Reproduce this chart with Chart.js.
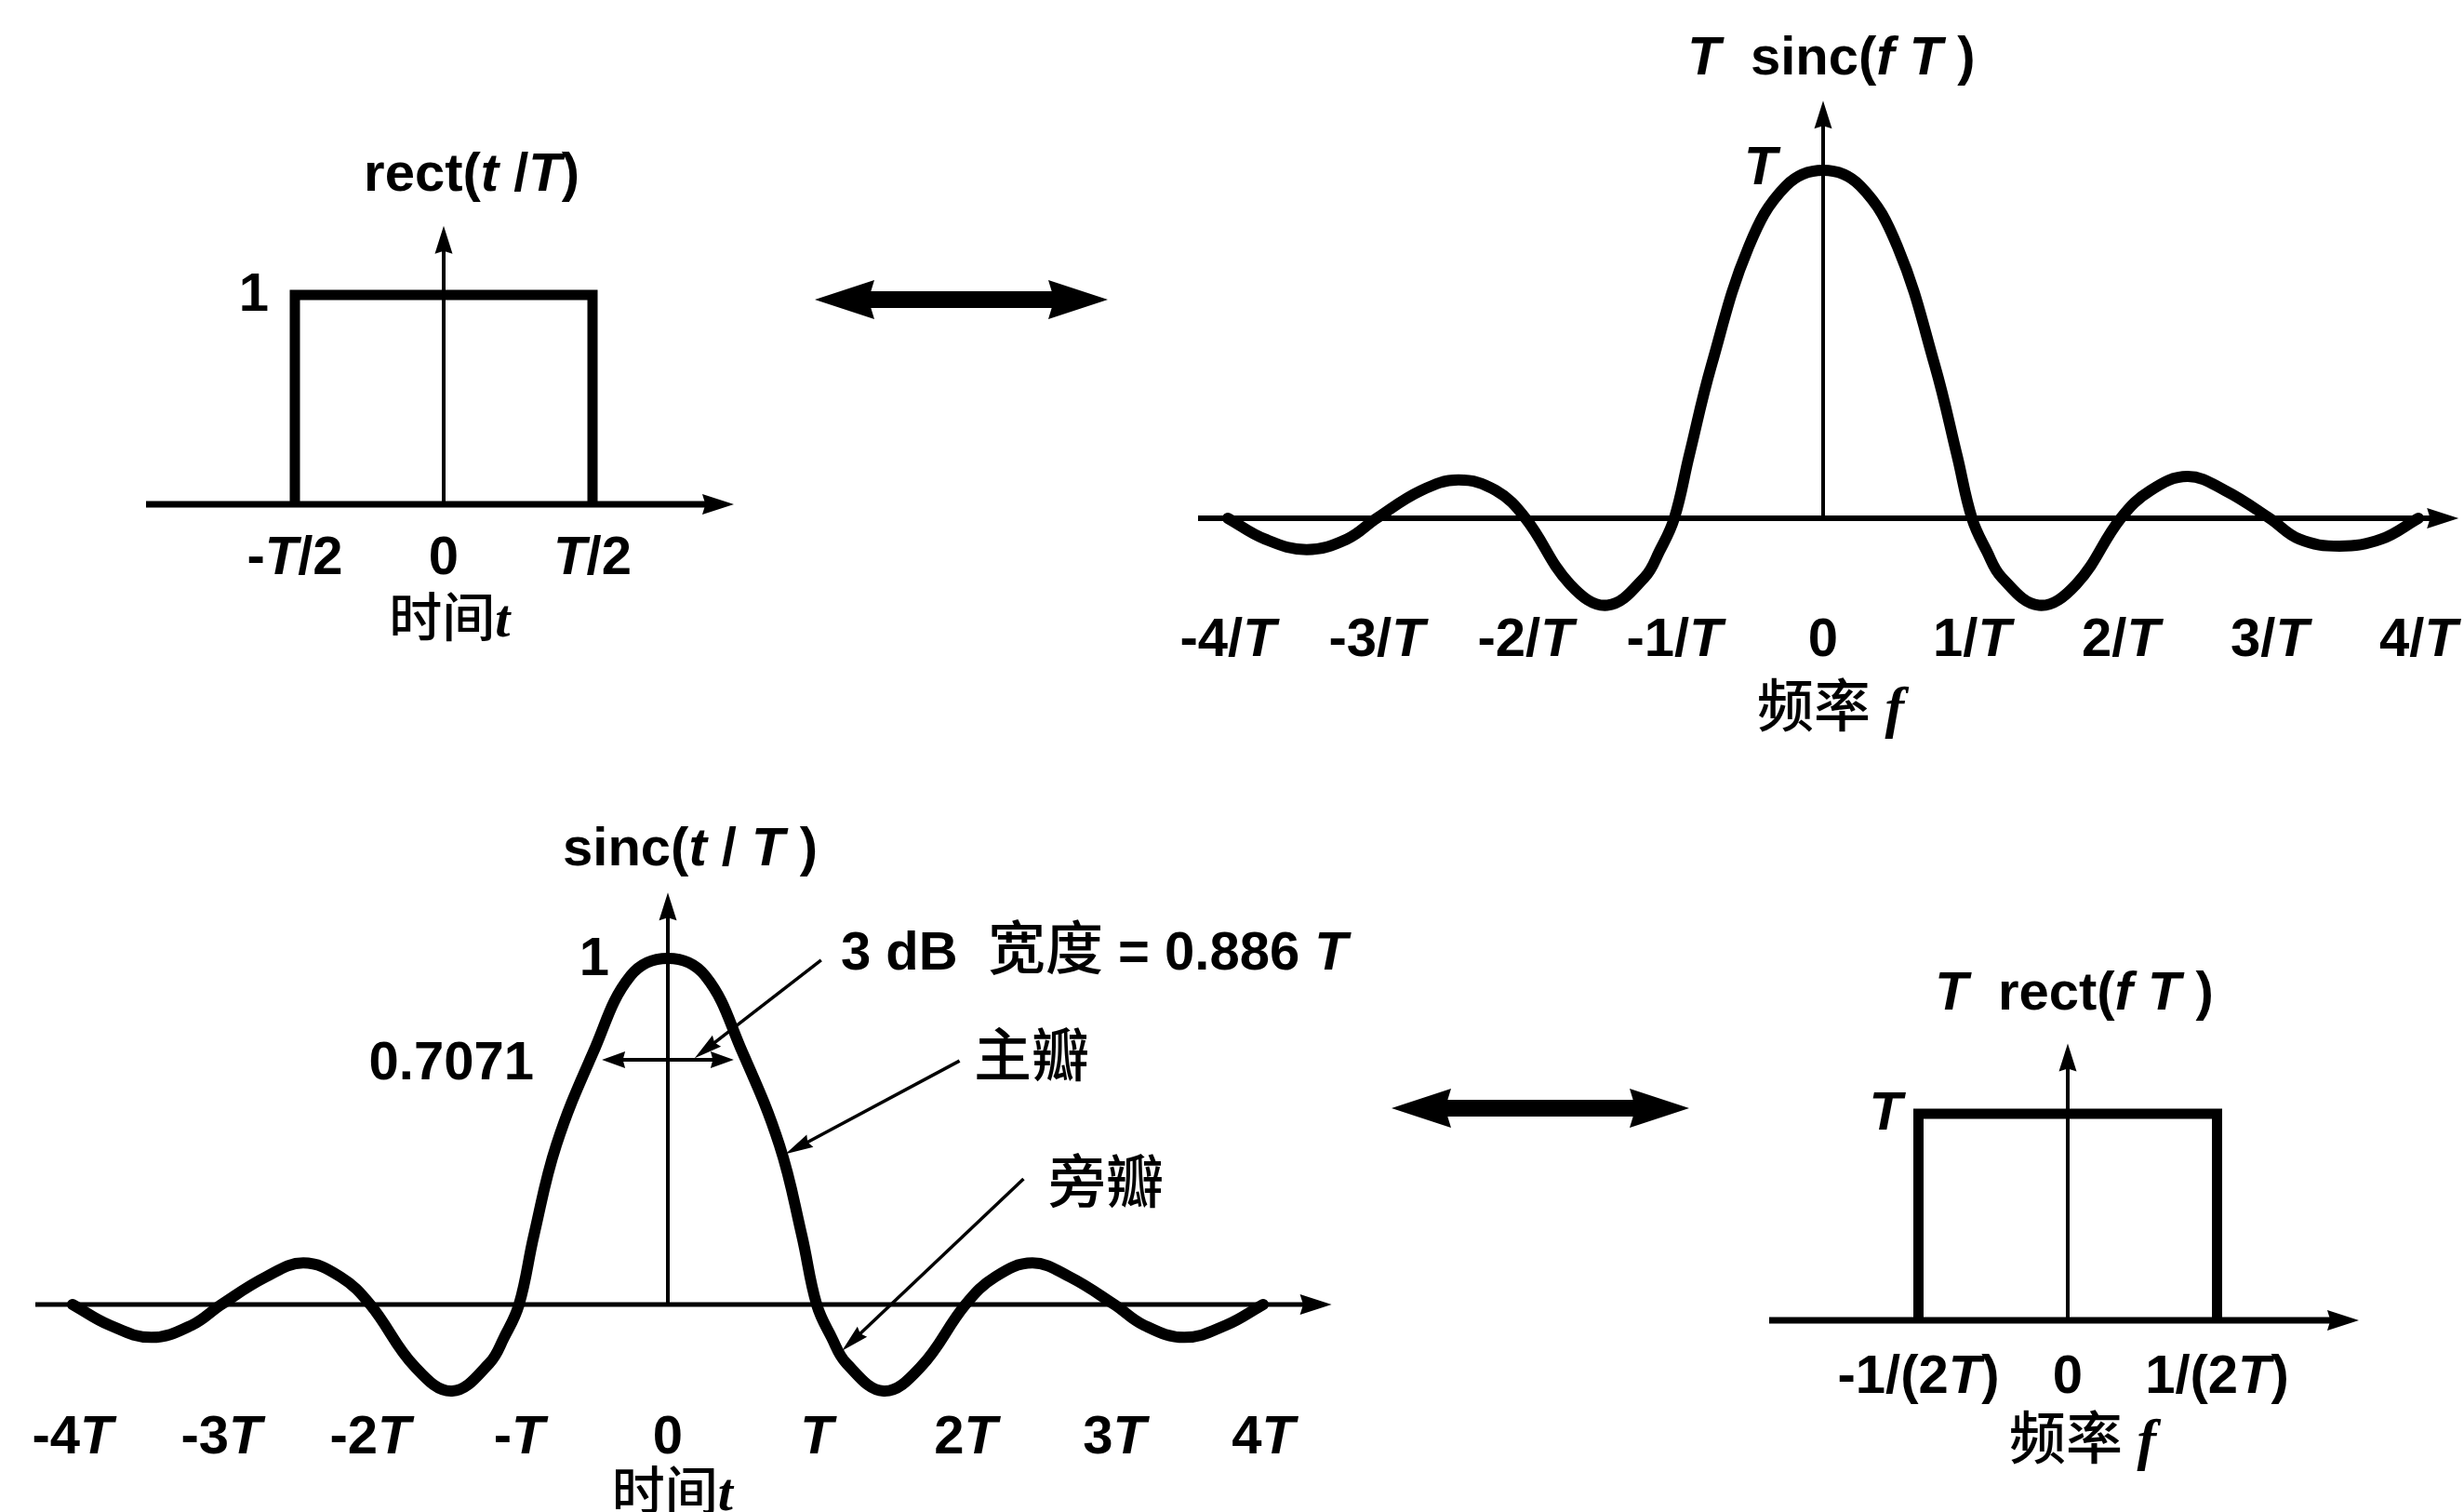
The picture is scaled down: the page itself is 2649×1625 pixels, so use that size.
<!DOCTYPE html>
<html>
<head>
<meta charset="utf-8">
<script src="https://cdn.jsdelivr.net/npm/chart.js@4.4.1/dist/chart.umd.min.js"></script>
<style>
  html, body { margin: 0; padding: 0; background: #fff; overflow: hidden; }
  #wrap { position: relative; width: 2649px; height: 1625px; }
</style>
</head>
<body>
<div id="wrap"><canvas id="fig" width="2649" height="1625"></canvas></div>
<script>
// ---- rect(t/T): unit pulse in time (t in units of T)
const pulseTime = [-0.5, -0.5, 0.5, 0.5];
const pulseLevel = [0, 1, 1, 0];
const pulseTicks = [-0.5, 0, 0.5];
const pulseTickLabels = ['-T/2', '0', 'T/2'];

// ---- T sinc(fT): spectrum of the pulse (f in units of 1/T, level in units of T)
const specFreq = [-4, -3.75, -3.47, -3.2, -3, -2.7, -2.45, -2.2, -2, -1.7, -1.45, -1.2, -1.1, -1, -0.9, -0.75, -0.5, -0.25, 0,
                  0.25, 0.5, 0.75, 0.9, 1, 1.1, 1.2, 1.45, 1.7, 2, 2.2, 2.45, 2.7, 3, 3.2, 3.47, 3.75, 4];
const specLevel = [0, -0.06, -0.09, -0.06, 0, 0.08, 0.11, 0.08, 0, -0.19, -0.25, -0.17, -0.095, 0, 0.18, 0.44, 0.78, 0.955, 1,
                   0.955, 0.78, 0.44, 0.18, 0, -0.095, -0.17, -0.25, -0.19, 0, 0.08, 0.12, 0.08, 0, -0.06, -0.08, -0.06, 0];
const specTicks = [-4, -3, -2, -1, 0, 1, 2, 3, 4];
const specTickLabels = ['-4/T', '-3/T', '-2/T', '-1/T', '0', '1/T', '2/T', '3/T', '4/T'];

// ---- sinc(t/T): pulse in time (t in units of T)
const sincTime = [-4, -3.75, -3.47, -3.2, -3, -2.7, -2.45, -2.2, -2, -1.7, -1.45, -1.2, -1.1, -1, -0.9, -0.75, -0.5, -0.25, 0,
                  0.25, 0.5, 0.75, 0.9, 1, 1.1, 1.2, 1.45, 1.7, 2, 2.2, 2.45, 2.7, 3, 3.2, 3.47, 3.75, 4];
const sincLevel = [0, -0.06, -0.095, -0.06, 0, 0.08, 0.12, 0.08, 0, -0.18, -0.25, -0.17, -0.095, 0, 0.2, 0.46, 0.73, 0.95, 1,
                   0.95, 0.73, 0.46, 0.2, 0, -0.095, -0.17, -0.25, -0.18, 0, 0.08, 0.12, 0.08, 0, -0.06, -0.095, -0.06, 0];
const sincTicks = [-4, -3, -2, -1, 0, 1, 2, 3, 4];
const sincTickLabels = ['-4T', '-3T', '-2T', '-T', '0', 'T', '2T', '3T', '4T'];
const halfPowerLevel = 0.7071;
const halfPowerWidth = 0.886;

// ---- T rect(fT): spectrum of the sinc pulse (f in units of 1/T)
const boxFreq = [-0.5, -0.5, 0.5, 0.5];
const boxLevel = [0, 1, 1, 0];
const boxTicks = [-0.5, 0, 0.5];
const boxTickLabels = ['-1/(2T)', '0', '1/(2T)'];

// ---------------------------------------------------------------------------
const W = 2649, H = 1625;

// where each panel's origin sits on the page and how many pixels one unit spans
const panelFrame = {
  1: { ox: 477,  oy: 542,  ux: 320, uy: 225 },
  2: { ox: 1960, oy: 557,  ux: 160, uy: 374 },
  3: { ox: 718,  oy: 1402, ux: 160, uy: 372 },
  4: { ox: 2223, oy: 1419, ux: 321, uy: 222 }
};

const scales = {};
Object.keys(panelFrame).forEach(id => {
  const g = panelFrame[id];
  scales['x' + id] = { type: 'linear', display: false, bounds: 'data', grace: 0,
                       min: -g.ox / g.ux, max: (W - g.ox) / g.ux };
  scales['y' + id] = { type: 'linear', display: false, bounds: 'data', grace: 0,
                       min: -(H - g.oy) / g.uy, max: g.oy / g.uy };
});

const SANS = 'px "Liberation Sans", Arial, sans-serif';
const CJK = 'px "Noto Sans CJK SC", "Noto Sans CJK TC", sans-serif';
const SERIF = 'px "Liberation Serif", "DejaVu Serif", serif';
const FS = 58;

function latin(t, italic, size) {
  return { t, f: (italic ? 'italic bold ' : 'bold ') + (size || FS) + SANS };
}
function cjk(t, size) { return { t, f: '500 ' + size + CJK }; }
function serifItalic(t, size) { return { t, f: 'italic bold ' + size + SERIF }; }
function tickParts(label) {
  return label.split(/(T)/).filter(s => s).map(s => latin(s, s === 'T'));
}
function titleParts(spec) { return spec.map(([t, it]) => latin(t, !!it)); }

const pulseTitle = [['rect(', 0], ['t', 1], [' /', 0], ['T', 1], [')', 0]];
const specTitle = [['T', 1], ['  sinc(', 0], ['f', 1], [' T', 1], [' )', 0]];
const sincTitle = [['sinc(', 0], ['t', 1], [' / ', 0], ['T', 1], [' )', 0]];
const boxTitle = [['T', 1], ['  rect(', 0], ['f', 1], [' T', 1], [' )', 0]];

function ds(xs, ys, id, smooth) {
  return {
    data: xs.map((x, i) => ({ x, y: ys[i] })),
    xAxisID: 'x' + id, yAxisID: 'y' + id,
    borderColor: '#000', borderWidth: smooth ? 12 : 11, pointRadius: 0, fill: false,
    tension: smooth ? 0.4 : 0, cubicInterpolationMode: 'default',
    borderJoinStyle: smooth ? 'round' : 'miter', borderCapStyle: smooth ? 'round' : 'butt'
  };
}

// ---- drawing helpers
function drawParts(ctx, parts, x, cy, align) {
  let total = 0;
  parts.forEach(p => { ctx.font = p.f; p.w = ctx.measureText(p.t).width; total += p.w; });
  let cx = align === 'center' ? x - total / 2 : (align === 'right' ? x - total : x);
  const base = cy + 0.36 * FS;
  ctx.textAlign = 'left';
  ctx.textBaseline = 'alphabetic';
  parts.forEach(p => { ctx.font = p.f; ctx.fillText(p.t, cx, base); cx += p.w; });
}
function head(ctx, x, y, ang, len, wid) {
  ctx.save();
  ctx.translate(x, y);
  ctx.rotate(ang);
  ctx.beginPath();
  ctx.moveTo(0, 0);
  ctx.lineTo(-len, -wid / 2);
  ctx.lineTo(-len * 0.9, 0);
  ctx.lineTo(-len, wid / 2);
  ctx.closePath();
  ctx.fill();
  ctx.restore();
}
function seg(ctx, x1, y1, x2, y2, w) {
  ctx.lineWidth = w;
  ctx.lineCap = 'butt';
  ctx.beginPath();
  ctx.moveTo(x1, y1);
  ctx.lineTo(x2, y2);
  ctx.stroke();
}
function leader(ctx, x1, y1, x2, y2) {
  const ang = Math.atan2(y2 - y1, x2 - x1);
  const len = 30;
  seg(ctx, x1, y1, x2 - Math.cos(ang) * len * 0.6, y2 - Math.sin(ang) * len * 0.6, 3.5);
  head(ctx, x2, y2, ang, len, 15);
}
function bigDoubleArrow(ctx, x1, x2, y) {
  const len = 64, wid = 42, shaft = 18;
  ctx.fillRect(x1 + len * 0.8, y - shaft / 2, (x2 - x1) - len * 1.6, shaft);
  head(ctx, x1, y, Math.PI, len, wid);
  head(ctx, x2, y, 0, len, wid);
}

// axes: x from xFrom to arrow tip xTo, y from 0 to arrow tip yTo
const axisSpec = [
  { id: 1, xFrom: -1.0,  xTo: 0.975, yTo: 1.33, xw: 7, yw: 4 },
  { id: 2, xFrom: -4.2,  xTo: 4.27,  yTo: 1.2,  xw: 6, yw: 4 },
  { id: 3, xFrom: -4.25, xTo: 4.46,  yTo: 1.19, xw: 5, yw: 4 },
  { id: 4, xFrom: -1.0,  xTo: 0.975, yTo: 1.34, xw: 7, yw: 4 }
];

const labelSpec = [
  { id: 1, ticks: pulseTicks, labels: pulseTickLabels, tickDy: 54,
    title: titleParts(pulseTitle), titleAt: [0.094, 1.59],
    level: [latin('1')], levelAt: [-0.6375, 1.018],
    axisTitle: [cjk('时间', 57), serifItalic('t', 58)], axisDy: 121, axisDx: 0.02 },
  { id: 2, ticks: specTicks, labels: specTickLabels, tickDy: 127,
    title: titleParts(specTitle), titleAt: [0.056, 1.33],
    level: [latin('T', true)], levelAt: [-0.42, 1.016],
    axisTitle: [cjk('频率', 61), serifItalic(' f', 62)], axisDy: 203, axisDx: 0.05 },
  { id: 3, ticks: sincTicks, labels: sincTickLabels, tickDy: 139,
    title: titleParts(sincTitle), titleAt: [0.15, 1.325],
    level: [latin('1')], levelAt: [-0.494, 1.008],
    axisTitle: [cjk('时间', 57), serifItalic('t', 58)], axisDy: 200, axisDx: 0.03 },
  { id: 4, ticks: boxTicks, labels: boxTickLabels, tickDy: 57,
    title: titleParts(boxTitle), titleAt: [0.022, 1.6],
    level: [latin('T', true)], levelAt: [-0.61, 1.018],
    axisTitle: [cjk('频率', 61), serifItalic(' f', 62)], axisDy: 128, axisDx: 0.05 }
];

const figureDecor = {
  id: 'figureDecor',
  beforeDraw(chart) {
    const ctx = chart.ctx;
    ctx.save();
    ctx.fillStyle = '#fff';
    ctx.fillRect(0, 0, chart.width, chart.height);
    ctx.restore();
  },
  beforeDatasetsDraw(chart) {
    const ctx = chart.ctx;
    ctx.save();
    ctx.strokeStyle = '#000';
    ctx.fillStyle = '#000';
    axisSpec.forEach(a => {
      const xs = chart.scales['x' + a.id], ys = chart.scales['y' + a.id];
      const x0 = xs.getPixelForValue(0), y0 = ys.getPixelForValue(0);
      const xl = xs.getPixelForValue(a.xFrom), xr = xs.getPixelForValue(a.xTo);
      const yt = ys.getPixelForValue(a.yTo);
      seg(ctx, xl, y0, xr - 20, y0, a.xw);
      head(ctx, xr, y0, 0, 34, 22);
      seg(ctx, x0, y0, x0, yt + 18, a.yw);
      head(ctx, x0, yt, -Math.PI / 2, 30, 19);
    });
    ctx.restore();
  },
  afterDatasetsDraw(chart) {
    const ctx = chart.ctx;
    ctx.save();
    ctx.fillStyle = '#000';
    ctx.strokeStyle = '#000';

    labelSpec.forEach(s => {
      const xs = chart.scales['x' + s.id], ys = chart.scales['y' + s.id];
      const y0 = ys.getPixelForValue(0);
      s.ticks.forEach((v, i) => drawParts(ctx, tickParts(s.labels[i]), xs.getPixelForValue(v), y0 + s.tickDy, 'center'));
      drawParts(ctx, s.title, xs.getPixelForValue(s.titleAt[0]), ys.getPixelForValue(s.titleAt[1]), 'center');
      drawParts(ctx, s.level, xs.getPixelForValue(s.levelAt[0]), ys.getPixelForValue(s.levelAt[1]), 'center');
      drawParts(ctx, s.axisTitle, xs.getPixelForValue(s.axisDx), y0 + s.axisDy, 'center');
    });

    // half-power width marker on sinc(t/T)
    const x3 = chart.scales.x3, y3 = chart.scales.y3;
    const yh = y3.getPixelForValue(halfPowerLevel);
    const xa = x3.getPixelForValue(-halfPowerWidth / 2), xb = x3.getPixelForValue(halfPowerWidth / 2);
    seg(ctx, xa + 14, yh, xb - 14, yh, 4);
    head(ctx, xa, yh, Math.PI, 25, 18);
    head(ctx, xb, yh, 0, 25, 18);
    drawParts(ctx, [latin(halfPowerLevel.toFixed(4))], x3.getPixelForValue(-0.9), yh, 'right');

    // annotations with leader arrows
    drawParts(ctx, [latin('3 dB  '), cjk('宽度', 62), latin(' = ' + halfPowerWidth.toFixed(3) + ' '), latin('T', true)],
              x3.getPixelForValue(1.1625), y3.getPixelForValue(1.024), 'left');
    drawParts(ctx, [cjk('主瓣', 62)], x3.getPixelForValue(2.056), y3.getPixelForValue(0.715), 'left');
    drawParts(ctx, [cjk('旁瓣', 62)], x3.getPixelForValue(2.556), y3.getPixelForValue(0.35), 'left');
    const P = (u, v) => [x3.getPixelForValue(u), y3.getPixelForValue(v)];
    leader(ctx, ...P(1.03, 0.995), ...P(0.18, 0.712));
    leader(ctx, ...P(1.96, 0.704), ...P(0.79, 0.435));
    leader(ctx, ...P(2.39, 0.363), ...P(1.17, -0.134));

    // Fourier-pair arrows between time and frequency panels
    bigDoubleArrow(ctx, 876, 1191, 322);
    bigDoubleArrow(ctx, 1496, 1816, 1191);
    ctx.restore();
  }
};

new Chart(document.getElementById('fig'), {
  type: 'line',
  data: {
    datasets: [
      ds(pulseTime, pulseLevel, 1, false),
      ds(specFreq, specLevel, 2, true),
      ds(sincTime, sincLevel, 3, true),
      ds(boxFreq, boxLevel, 4, false)
    ]
  },
  options: {
    responsive: false,
    animation: false,
    events: [],
    layout: { padding: 0 },
    scales,
    plugins: { legend: { display: false }, tooltip: { enabled: false }, title: { display: false } }
  },
  plugins: [figureDecor]
});
</script>
</body>
</html>
